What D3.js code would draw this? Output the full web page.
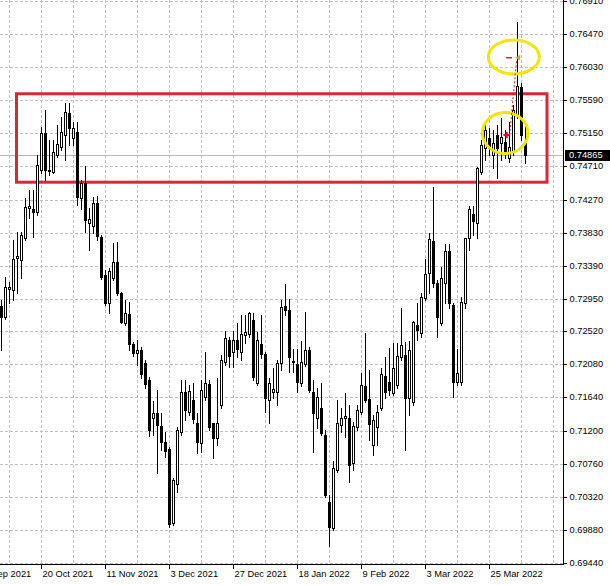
<!DOCTYPE html>
<html><head><meta charset="utf-8">
<script src="https://cdn.jsdelivr.net/npm/d3@7/dist/d3.min.js"></script>
<style>html,body{margin:0;padding:0;background:#fff;overflow:hidden}svg{display:block}</style>
</head><body><svg id="c" width="610" height="585"></svg>
<script>
// ---- data (daily candles, bar index 0 = 6 Oct 2021) ----
const opens = [0.72855,0.72709,0.73081,0.73068,0.73494,0.73467,0.73759,0.74158,0.74144,0.74104,
0.74663,0.75155,0.74663,0.74636,0.74863,0.74969,0.75129,0.75421,0.75089,0.75168,
0.74291,0.74490,0.73958,0.73918,0.74224,0.73772,0.73268,0.72895,0.73228,0.73440,
0.73028,0.72629,0.72749,0.72350,0.72230,0.72270,0.72097,0.71871,0.71366,0.71432,
0.71259,0.71046,0.70954,0.69970,0.70489,0.71180,0.71711,0.71445,0.71605,0.71299,
0.71033,0.71645,0.71818,0.71299,0.71100,0.71539,0.72110,0.72403,0.72243,0.72403,
0.72243,0.72469,0.72483,0.72669,0.71831,0.72350,0.72217,0.71605,0.71711,0.71711,
0.72097,0.72855,0.72802,0.72124,0.72084,0.71831,0.72084,0.72270,0.71711,0.71366,
0.71499,0.71140,0.70249,0.69904,0.70675,0.71273,0.71366,0.71366,0.70768,0.71246,
0.71445,0.71791,0.71618,0.71007,0.71246,0.71499,0.71924,0.71845,0.71698,0.71805,
0.72177,0.72204,0.71632,0.71579,0.72602,0.72496,0.72962,0.73294,0.73719,0.73161,
0.72629,0.73161,0.73587,0.72869,0.71845,0.71845,0.72895,0.73759,0.74078,0.73958,
0.74636,0.74956,0.75089,0.74863,0.75129,0.75022,0.75035,0.74823,0.74902,0.75394,
0.75766,0.75022];
const highs = [0.72935,0.73241,0.73174,0.73732,0.73838,0.73838,0.74291,0.74397,0.74397,0.74863,
0.75235,0.75461,0.75062,0.75062,0.75262,0.75368,0.75554,0.75554,0.75301,0.75301,
0.74530,0.74716,0.74158,0.74304,0.74317,0.73799,0.73334,0.73361,0.73692,0.73705,
0.73041,0.72935,0.72908,0.72376,0.72403,0.72310,0.72137,0.71911,0.71592,0.71738,
0.71432,0.71180,0.70981,0.70569,0.71246,0.71871,0.71871,0.71805,0.71831,0.71432,
0.71871,0.72243,0.71871,0.71299,0.71898,0.72204,0.72523,0.72443,0.72523,0.72629,
0.72735,0.72735,0.72775,0.72762,0.72509,0.72735,0.72243,0.71898,0.72031,0.72137,
0.72935,0.73148,0.72948,0.72283,0.72283,0.72390,0.72775,0.72310,0.71871,0.71765,
0.71831,0.71206,0.70343,0.70795,0.71605,0.71499,0.71698,0.71539,0.71312,0.71539,
0.71964,0.72496,0.72004,0.71406,0.71539,0.72031,0.72177,0.72296,0.72363,0.72363,
0.72828,0.72376,0.72390,0.72655,0.72895,0.73028,0.73480,0.73825,0.74437,0.73201,
0.73374,0.73679,0.73679,0.72895,0.72283,0.72975,0.73759,0.74184,0.74184,0.74703,
0.75062,0.75262,0.75222,0.75195,0.75262,0.75355,0.75195,0.75301,0.75527,0.76630,
0.75820,0.75262];
const lows = [0.72270,0.72682,0.72895,0.72935,0.73028,0.73228,0.73732,0.74025,0.73772,0.74065,
0.74623,0.74530,0.74597,0.74623,0.74836,0.74929,0.74796,0.74996,0.74996,0.74198,
0.74144,0.73838,0.73600,0.73825,0.73732,0.73214,0.72869,0.72762,0.73201,0.73001,
0.72629,0.72602,0.72270,0.72190,0.72071,0.71898,0.71765,0.71126,0.71140,0.70635,
0.70941,0.70848,0.69917,0.69944,0.70382,0.71140,0.71339,0.71406,0.71299,0.70901,
0.70914,0.71605,0.71206,0.70835,0.71007,0.71499,0.72071,0.72044,0.72044,0.72177,
0.72137,0.72363,0.72443,0.71871,0.71805,0.72164,0.71445,0.71299,0.71632,0.71539,
0.72004,0.72735,0.71978,0.71978,0.71711,0.71791,0.72057,0.71711,0.70914,0.71233,
0.71140,0.70316,0.69664,0.69877,0.70648,0.71180,0.71113,0.70515,0.70675,0.71206,
0.71419,0.71579,0.71073,0.70875,0.71007,0.71472,0.71632,0.71672,0.71672,0.71765,
0.72137,0.70941,0.71406,0.71539,0.72403,0.72443,0.72935,0.73028,0.73108,0.72443,
0.72602,0.72895,0.72828,0.71645,0.71805,0.71805,0.72828,0.73600,0.73799,0.73759,
0.74610,0.74796,0.74863,0.74690,0.74557,0.74796,0.74823,0.74770,0.74863,0.75355,
0.75062,0.74756];
const closes = [0.72709,0.73108,0.73108,0.73480,0.73520,0.73799,0.74171,0.74184,0.74104,0.74730,
0.75155,0.74663,0.74650,0.74902,0.75009,0.75168,0.75434,0.75222,0.75222,0.74304,
0.74490,0.73998,0.74011,0.74224,0.73785,0.73241,0.72895,0.73321,0.73440,0.73028,
0.72642,0.72762,0.72350,0.72230,0.72270,0.71951,0.71818,0.71206,0.71432,0.71273,
0.71046,0.70928,0.69957,0.70542,0.71206,0.71711,0.71472,0.71725,0.71353,0.71046,
0.71738,0.71831,0.71246,0.71100,0.71299,0.72137,0.72430,0.72190,0.72403,0.72283,
0.72483,0.72509,0.72762,0.71911,0.72403,0.72217,0.71632,0.71831,0.71751,0.72097,
0.72842,0.72802,0.72177,0.72110,0.71845,0.72110,0.72270,0.71738,0.71432,0.71645,
0.71166,0.70343,0.69917,0.70702,0.71299,0.71366,0.71392,0.70741,0.71259,0.71472,
0.71805,0.71605,0.71286,0.71339,0.71445,0.71951,0.71711,0.71738,0.72031,0.72190,
0.72337,0.71632,0.72270,0.72642,0.72536,0.72975,0.73281,0.73746,0.73161,0.72709,
0.73228,0.73587,0.72895,0.71845,0.71964,0.72908,0.73759,0.74144,0.73985,0.74690,
0.74996,0.75195,0.74956,0.75022,0.74956,0.75102,0.74889,0.74969,0.75461,0.75780,
0.75129,0.74865];

const priceTicks = [0.76910,0.76470,0.76030,0.75590,0.75150,0.74710,0.74270,0.73830,0.73390,
0.72950,0.72520,0.72080,0.71640,0.71200,0.70760,0.70320,0.69880,0.69440];
const dateLabels = ["28 Sep 2021","20 Oct 2021","11 Nov 2021","3 Dec 2021","27 Dec 2021",
"18 Jan 2022","9 Feb 2022","3 Mar 2022","25 Mar 2022"];
const dateIndex = [-6,10,26,42,58,74,90,106,122];
const lastPrice = 0.74865;

// annotations (bar index / price)
const zoneBox = {i0:3.875, i1:136.5, pLow:0.74501, pHigh:0.75677};
const ellipses = [{i:128.2, p:0.76165, rx:25.5, ry:17}, {i:126.05, p:0.75155, rx:22.8, ry:20.5}];
const entry = {i:126.4, p:0.75128};
const target = {i:129.4, p:0.76156};

// ---- scales ----
const W = 610, H = 585, axisX = 563, axisY = 564;
const x = d3.scaleLinear().domain([0, 131]).range([1, 525]);
const y = d3.scaleLinear().domain([0.69440, 0.76910]).range([562.9, 1]);
const px = i => Math.round(x(i));
const py = p => Math.round(y(p));

const svg = d3.select("#c");
svg.append("rect").attr("width", W).attr("height", H).attr("fill", "#fff");

const FONT = "'Liberation Sans', Arial, sans-serif";
const grid = svg.append("g").attr("stroke", "#c0c0c0").attr("stroke-dasharray", "3,2").attr("shape-rendering", "crispEdges");
// horizontal grid
grid.selectAll("line.h").data(priceTicks).join("line")
  .attr("x1", 0).attr("x2", axisX).attr("y1", d => py(d) + 0.5).attr("y2", d => py(d) + 0.5);
// vertical grid (every 8 bars)
const vIdx = d3.range(2, 140, 8);
grid.selectAll("line.v").data(vIdx).join("line")
  .attr("x1", d => px(d) + 0.5).attr("x2", d => px(d) + 0.5).attr("y1", 0).attr("y2", axisY);

// current price line
svg.append("line").attr("x1", 0).attr("x2", axisX).attr("y1", py(lastPrice) + 0.5).attr("y2", py(lastPrice) + 0.5)
  .attr("stroke", "#b4b4b4").attr("shape-rendering", "crispEdges");

// zone rectangle
svg.append("rect")
  .attr("x", x(zoneBox.i0)).attr("y", y(zoneBox.pHigh))
  .attr("width", x(zoneBox.i1) - x(zoneBox.i0)).attr("height", y(zoneBox.pLow) - y(zoneBox.pHigh))
  .attr("fill", "none").attr("stroke", "#d42a36").attr("stroke-width", 3);

// candles
const data = opens.map((o, i) => ({i, o, h: highs[i], l: lows[i], c: closes[i]}));
const cg = svg.append("g").attr("shape-rendering", "crispEdges");
cg.selectAll("line").data(data).join("line")
  .attr("x1", d => px(d.i) + 0.5).attr("x2", d => px(d.i) + 0.5)
  .attr("y1", d => py(d.h)).attr("y2", d => py(d.l) + 1)
  .attr("stroke", "#000");
cg.selectAll("rect").data(data).join("rect")
  .attr("x", d => px(d.i) - 0.5).attr("width", 2)
  .attr("y", d => py(Math.max(d.o, d.c)) + 0.5)
  .attr("height", d => Math.max(0.01, py(Math.min(d.o, d.c)) - py(Math.max(d.o, d.c))))
  .attr("fill", d => d.c >= d.o ? "#fff" : "#000")
  .attr("stroke", "#000");

// ellipses
svg.selectAll("ellipse").data(ellipses).join("ellipse")
  .attr("cx", d => x(d.i)).attr("cy", d => y(d.p)).attr("rx", d => d.rx).attr("ry", d => d.ry)
  .attr("fill", "none").attr("stroke", "#f2e600").attr("stroke-width", 3);

// trade markers
svg.append("line").attr("x1", x(entry.i) + 3).attr("y1", y(entry.p)).attr("x2", x(target.i) - 2).attr("y2", y(target.p) + 3)
  .attr("stroke", "#c81e1e").attr("stroke-dasharray", "2,2");
svg.append("path").attr("d", d3.symbol(d3.symbolCross, 22)())
  .attr("transform", `translate(${x(entry.i)},${y(entry.p)})`).attr("fill", "#e01010");
svg.append("line").attr("x1", x(target.i) - 12.5).attr("x2", x(target.i) - 6.5)
  .attr("y1", y(target.p)).attr("y2", y(target.p)).attr("stroke", "#d01818").attr("stroke-width", 1.4);
svg.append("path").attr("d", d3.symbol(d3.symbolTriangle, 14)())
  .attr("transform", `translate(${x(target.i)},${y(target.p)}) rotate(-90)`).attr("fill", "#d6a23c");

// axes lines
const ax = svg.append("g").attr("shape-rendering", "crispEdges");
ax.append("line").attr("x1", axisX + 0.5).attr("x2", axisX + 0.5).attr("y1", 0).attr("y2", axisY + 1).attr("stroke", "#000");
ax.append("line").attr("x1", 0).attr("x2", axisX + 1).attr("y1", axisY + 0.5).attr("y2", axisY + 0.5).attr("stroke", "#000");

// right price axis
const yAxis = svg.append("g").attr("transform", `translate(${axisX + 0.5},0)`)
  .call(d3.axisRight(y).tickValues(priceTicks).tickFormat(d3.format(".5f")).tickSize(3).tickPadding(3).tickSizeOuter(0));
yAxis.select(".domain").remove();
yAxis.selectAll(".tick").attr("transform", d => `translate(0,${py(d) + 0.5})`);
yAxis.selectAll("text").attr("font-family", FONT).attr("font-size", "9.3px").attr("fill", "#000");
yAxis.selectAll("line").attr("shape-rendering", "crispEdges");

// date axis
const xAxis = svg.append("g").attr("transform", `translate(0,${axisY + 0.5})`)
  .call(d3.axisBottom(x).tickValues(dateIndex).tickFormat((d, i) => dateLabels[i]).tickSize(4).tickPadding(2).tickSizeOuter(0));
xAxis.select(".domain").remove();
xAxis.selectAll(".tick").attr("transform", d => `translate(${px(d) + 0.5},0)`);
xAxis.selectAll("line").attr("shape-rendering", "crispEdges");
xAxis.selectAll("text").attr("text-anchor", "start").attr("x", 1)
  .attr("font-family", FONT).attr("font-size", "9.3px").attr("fill", "#000");

// last price label
const lp = py(lastPrice);
svg.append("rect").attr("x", axisX + 2).attr("y", lp - 5).attr("width", W - axisX - 2).attr("height", 11).attr("fill", "#000");
svg.append("text").attr("x", axisX + 6).attr("y", lp + 0.5).attr("dy", "0.32em")
  .attr("font-family", FONT).attr("font-size", "9.3px").attr("fill", "#fff").text(d3.format(".5f")(lastPrice));
</script>
</body></html>
